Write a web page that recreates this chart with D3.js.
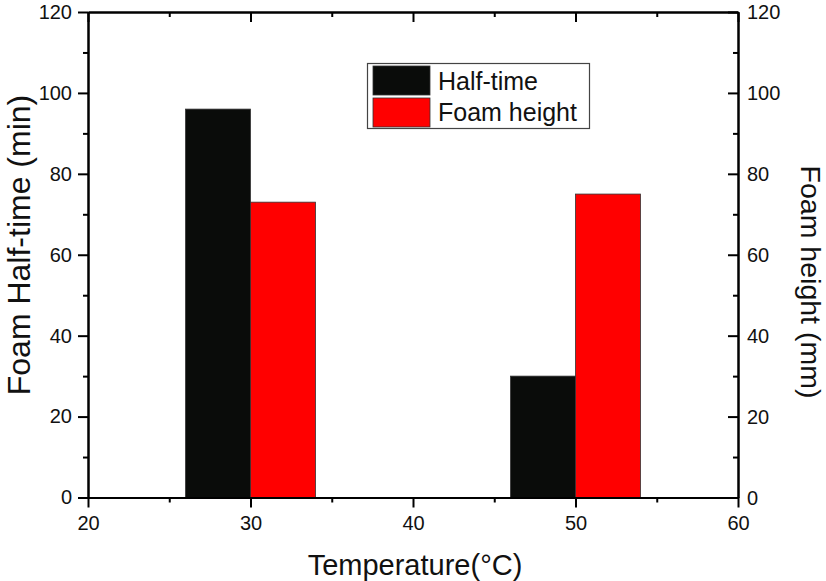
<!DOCTYPE html>
<html>
<head>
<meta charset="utf-8">
<script src="https://d3js.org/d3.v7.min.js"></script>
<style>
 body { margin: 0; background: #fff; }
 text { font-family: "Liberation Sans", Arial, sans-serif; fill: #111; }
</style>
</head>
<body>
<svg width="826" height="581"></svg>
<script>
 // data
 var temps = [30, 50];
 var halfTime = [96, 30];      // min, left axis
 var foamHeight = [73, 75];    // mm, right axis
 var xTicks = [20, 30, 40, 50, 60];
 var yTicks = [0, 20, 40, 60, 80, 100, 120];
 var seriesNames = ["Half-time", "Foam height"];
 var seriesColors = ["#0a0c0a", "#ff0000"];

 var svg = d3.select("svg");
 var pLeft = 88, pRight = 738, pTop = 12, pBottom = 497.5;

 var x = d3.scaleLinear().domain([20, 60]).range([pLeft, pRight]);
 var yL = d3.scaleLinear().domain([0, 120]).range([pBottom, pTop]);
 var yR = d3.scaleLinear().domain([0, 120]).range([pBottom, pTop]);
 var barW = 4; // in temperature units

 // bars
 var g = svg.append("g");
 g.selectAll("rect.ht")
    .data(temps)
    .enter()
    .append("rect")
    .attr("x", function (d) { return x(d - barW); })
    .attr("width", function (d) { return x(d) - x(d - barW); })
    .attr("y", function (d, i) { return yL(halfTime[i]); })
    .attr("height", function (d, i) { return pBottom - yL(halfTime[i]); })
    .attr("fill", seriesColors[0])
    .attr("stroke", "#333").attr("stroke-width", 0.8);
 g.selectAll("rect.fh")
    .data(temps)
    .enter()
    .append("rect")
    .attr("x", function (d) { return x(d); })
    .attr("width", function (d) { return x(d + barW) - x(d); })
    .attr("y", function (d, i) { return yR(foamHeight[i]); })
    .attr("height", function (d, i) { return pBottom - yR(foamHeight[i]); })
    .attr("fill", seriesColors[1])
    .attr("stroke", "#333").attr("stroke-width", 0.8);

 // axes
 var minorX = d3.range(25, 60, 10);
 var minorY = d3.range(10, 120, 20);

 function styleAxis(sel) {
     sel.select(".domain").attr("stroke", "#000").attr("stroke-width", 2);
     sel.selectAll(".tick line").attr("stroke", "#000").attr("stroke-width", 2);
     sel.selectAll(".tick text").attr("font-size", "20px")
        .attr("font-family", "Liberation Sans, Arial, sans-serif").attr("fill", "#111");
 }

 svg.append("g").attr("transform", "translate(0," + pBottom + ")")
    .call(d3.axisBottom(x).tickValues(xTicks).tickSize(10).tickPadding(8).tickSizeOuter(0))
    .call(styleAxis);
 svg.append("g").attr("transform", "translate(0," + pBottom + ")")
    .call(d3.axisBottom(x).tickValues(minorX).tickSize(5).tickFormat("").tickSizeOuter(0))
    .call(styleAxis);

 svg.append("g").attr("transform", "translate(0," + pTop + ")")
    .call(d3.axisBottom(x).tickValues(xTicks).tickSize(10).tickFormat("").tickSizeOuter(0))
    .call(styleAxis);
 svg.append("g").attr("transform", "translate(0," + pTop + ")")
    .call(d3.axisBottom(x).tickValues(minorX).tickSize(5).tickFormat("").tickSizeOuter(0))
    .call(styleAxis);

 svg.append("g").attr("transform", "translate(" + pLeft + ",0)")
    .call(d3.axisLeft(yL).tickValues(yTicks).tickSize(10).tickPadding(6).tickSizeOuter(0))
    .call(styleAxis);
 svg.append("g").attr("transform", "translate(" + pLeft + ",0)")
    .call(d3.axisLeft(yL).tickValues(minorY).tickSize(5).tickFormat("").tickSizeOuter(0))
    .call(styleAxis);

 svg.append("g").attr("transform", "translate(" + pRight + ",0)")
    .call(d3.axisLeft(yR).tickValues(yTicks).tickSize(10).tickFormat("").tickSizeOuter(0))
    .call(styleAxis);
 svg.append("g").attr("transform", "translate(" + pRight + ",0)")
    .call(d3.axisLeft(yR).tickValues(minorY).tickSize(5).tickFormat("").tickSizeOuter(0))
    .call(styleAxis);
 // right labels outside
 svg.append("g").selectAll("text")
    .data(yTicks)
    .enter()
    .append("text")
    .attr("x", pRight + 9)
    .attr("y", function (d) { return yR(d); })
    .attr("dy", "0.35em")
    .attr("font-size", "20px")
    .text(function (d) { return d; });

 // axis titles
 svg.append("text")
    .attr("x", 415).attr("y", 575)
    .attr("text-anchor", "middle").attr("font-size", "29px")
    .text("Temperature(\u00B0C)");
 svg.append("text")
    .attr("transform", "translate(30,245) rotate(-90)")
    .attr("text-anchor", "middle").attr("font-size", "32px")
    .text("Foam Half-time (min)");
 svg.append("text")
    .attr("transform", "translate(801,282) rotate(90)")
    .attr("text-anchor", "middle").attr("font-size", "28.5px")
    .text("Foam height (mm)");

 // legend
 var lg = svg.append("g");
 lg.append("rect").attr("x", 367.5).attr("y", 63.5).attr("width", 222).attr("height", 65)
    .attr("fill", "#fff").attr("stroke", "#444").attr("stroke-width", 1.2);
 lg.selectAll("rect.sw")
    .data(seriesNames)
    .enter()
    .append("rect")
    .attr("x", 373).attr("y", function (d, i) { return 66 + i * 32; })
    .attr("width", 57).attr("height", 29)
    .attr("fill", function (d, i) { return seriesColors[i]; })
    .attr("stroke", "#333").attr("stroke-width", 0.8);
 lg.selectAll("text")
    .data(seriesNames)
    .enter()
    .append("text")
    .attr("x", 438).attr("y", function (d, i) { return 90 + i * 31; })
    .attr("font-size", "25px")
    .text(function (d) { return d; });
</script>
</body>
</html>
